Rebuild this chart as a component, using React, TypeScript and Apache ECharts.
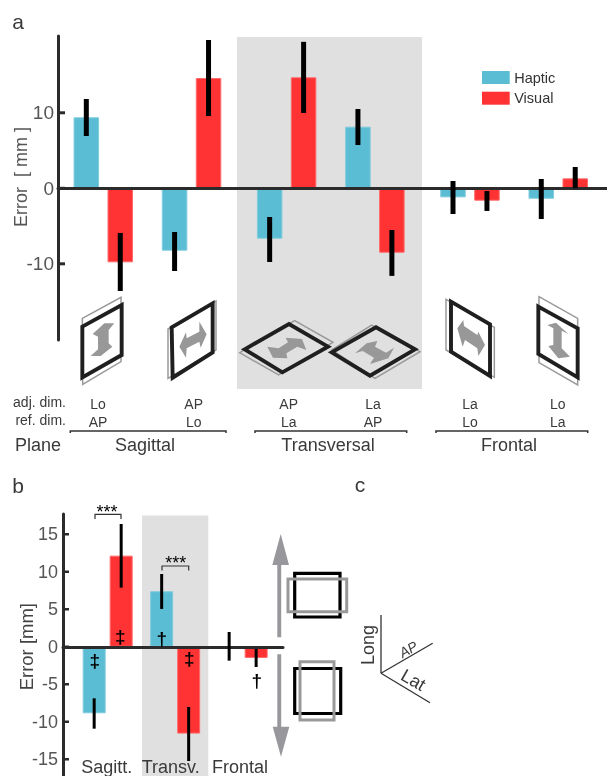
import React, { useEffect, useRef } from "react";
import * as echarts from "echarts";

// Panel a
const slotsHapticA = [0, 13, 27, 40, 54, 67];
const slotsVisualA = [5, 18, 32, 45, 59, 72];
const hapticA = [9.4, -8.26, -6.67, 8.16, -1.2, -1.38];
const visualA = [-9.8, 14.6, 14.7, -8.53, -1.64, 1.32];
const hapticLowA = [6.93, -10.95, -9.76, 5.73, -3.4, -4.07];
const hapticHighA = [11.83, -5.79, -3.8, 10.5, 0.97, 1.23];
const visualLowA = [-13.6, 9.57, 9.97, -11.6, -3.0, 0];
const visualHighA = [-5.92, 19.64, 19.4, -5.52, -0.36, 2.82];
const ticksA = [-10, 0, 10];
const adjDim = ["Lo", "AP", "AP", "La", "La", "Lo"];
const refDim = ["AP", "Lo", "La", "AP", "Lo", "La"];

// Panel b
const slotsHapticB = [0, 5, 10];
const slotsVisualB = [2, 7, 12];
const hapticB = [-8.87, 7.4, 0];
const visualB = [12.15, -11.58, -1.49];
const hapticLowB = [-10.92, 5.04, -1.85];
const hapticHighB = [-6.87, 9.7, 1.97];
const visualLowB = [7.88, -15.23, -2.69];
const visualHighB = [16.37, -8.03, -0.3];
const ticksB = [-15, -10, -5, 0, 5, 10, 15];

const TEAL = "#5bbdd4";
const RED = "#ff3333";
const INK = "#2b2b2b";
const ARROW = "#98989c";
const FONT = "Liberation Sans";

type P = number[][];
const poly = (ox: number, oy: number, pts: P) => pts.map(([x, y]) => [ox + x / 3, oy + y / 3]);

const txt = (text: string, x: number, y: number, size: number, extra: any = {}) => ({
  type: "text",
  x,
  y,
  z: 20,
  rotation: extra.rotation ?? 0,
  style: {
    text,
    fontSize: size,
    fontFamily: FONT,
    fontStyle: extra.fontStyle ?? "normal",
    fontWeight: extra.fontWeight ?? "normal",
    fill: extra.fill ?? "#3a3a3a",
    align: extra.align ?? "center",
    verticalAlign: "middle",
  },
});

const shape = (pts: P, stroke: string | null, lineWidth: number, fill: string | null = null, close = true) => ({
  type: close ? "polygon" : "polyline",
  z: 10,
  shape: { points: pts },
  style: { fill: fill ?? (close ? "none" : undefined), stroke: stroke ?? "none", lineWidth },
});

const icon = (ox: number, oy: number, grey: P, black: P, arrow: P) => [
  shape(poly(ox, oy, grey), "#9a9a9a", 1.5),
  shape(poly(ox, oy, arrow), null, 0, "#989898"),
  shape(poly(ox, oy, black), "#1f1f1f", 3.9),
];

const errorSeries = (name: string, xs: number[], lo: number[], hi: number[], axis: number, width: number) => ({
  type: "custom",
  name,
  xAxisIndex: axis,
  yAxisIndex: axis,
  z: 6,
  silent: true,
  clip: false,
  encode: { x: 0, y: [1, 2] },
  data: xs.map((x, i) => [x, lo[i], hi[i]]),
  renderItem: (_p: any, api: any) => {
    const a = api.coord([api.value(0), api.value(1)]);
    const b = api.coord([api.value(0), api.value(2)]);
    return {
      type: "rect",
      shape: { x: a[0] - width / 2, y: b[1], width, height: a[1] - b[1] },
      style: { fill: "#000" },
    };
  },
});

const barSeries = (name: string, xs: number[], ys: number[], axis: number, width: number, color: string, edge: string) => ({
  type: "bar",
  name,
  xAxisIndex: axis,
  yAxisIndex: axis,
  barWidth: width,
  barGap: "-100%",
  z: 2,
  data: xs.map((x, i) => [x, ys[i]]),
  itemStyle: { color, borderColor: edge, borderWidth: 1 },
});

const yAxis = (gridIndex: number, min: number, max: number, ticks: number[], margin: number, size: number) => ({
  type: "value",
  gridIndex,
  min,
  max,
  splitLine: { show: false },
  axisLine: { show: true, onZero: false, lineStyle: { color: INK, width: 3 } },
  axisTick: { show: false },
  axisLabel: { customValues: ticks, margin, color: "#555", fontSize: size, fontFamily: FONT },
});

const xAxis = (gridIndex: number, min: number, max: number) => ({
  type: "value",
  gridIndex,
  min,
  max,
  z: 3,
  splitLine: { show: false },
  axisTick: { show: false },
  axisLabel: { show: false },
  axisLine: { show: true, onZero: true, lineStyle: { color: INK, width: 3 } },
});

const dimX = [98, 193.7, 288.7, 373, 470, 557.7];
const X_MIN_A = -4.17;
const X_MIN_B = -2.31;

const graphics: any[] = [
  // grey bands
  { type: "rect", z: 0, shape: { x: 237, y: 37, width: 185, height: 352 }, style: { fill: "#e0e0e0" } },
  { type: "rect", z: 0, shape: { x: 142, y: 515.5, width: 66.3, height: 261 }, style: { fill: "#e0e0e0" } },

  // panel letters
  txt("a", 18, 21, 21),
  txt("b", 18, 485, 21),
  txt("c", 360, 484, 21),

  // panel a axis title
  txt("Error  [ mm ]", 21, 177, 18, { rotation: Math.PI / 2, fill: "#555" }),

  // icons of panel a
  ...icon(70, 290,
    [[37, 85], [153, 22], [153, 215], [38, 283]],
    [[37, 110], [155, 45], [155, 195], [37, 262]],
    [[68, 132], [103, 100], [133, 100], [116, 120], [116, 160], [127, 170], [92, 198], [62, 198], [84, 178], [84, 140]]),
  ...icon(160, 295,
    [[24, 102], [168, 18], [168, 165], [24, 250]],
    [[35, 97], [158, 25], [158, 172], [38, 248]],
    [[58, 155], [78, 112], [80, 130], [118, 110], [118, 80], [140, 118], [122, 158], [118, 140], [80, 160], [78, 188]]),
  ...icon(238, 315,
    [[5, 113], [122, 180], [285, 82], [170, 17]],
    [[20, 103], [153, 27], [270, 95], [133, 172]],
    [[88, 95], [122, 100], [150, 82], [143, 68], [192, 72], [205, 105], [178, 95], [145, 115], [148, 130], [105, 128]]),
  ...icon(325, 315,
    [[20, 105], [140, 30], [285, 110], [150, 190]],
    [[20, 112], [153, 37], [270, 103], [135, 182]],
    [[90, 115], [125, 85], [157, 78], [150, 95], [183, 113], [207, 98], [190, 130], [135, 147], [147, 128], [113, 108]]),
  ...icon(440, 290,
    [[18, 28], [163, 112], [163, 262], [18, 180]],
    [[33, 35], [150, 103], [150, 258], [33, 185]],
    [[52, 115], [70, 90], [72, 108], [112, 135], [115, 125], [135, 165], [115, 198], [112, 175], [75, 150], [68, 170]]),
  ...icon(530, 290,
    [[27, 20], [143, 85], [143, 285], [27, 218]],
    [[25, 50], [143, 115], [143, 262], [25, 192]],
    [[52, 105], [78, 98], [115, 132], [95, 122], [95, 175], [120, 200], [85, 205], [55, 168], [70, 165], [70, 115]]),

  // row labels
  txt("adj. dim.", 66, 402, 14, { align: "right" }),
  txt("ref. dim.", 66, 420, 14, { align: "right" }),
  ...adjDim.map((t, i) => txt(t, dimX[i], 404, 14)),
  ...refDim.map((t, i) => txt(t, dimX[i], 421.5, 14)),
  txt("Plane", 38, 445, 18),
  txt("Sagittal", 145, 445, 18),
  txt("Transversal", 328, 445, 18),
  txt("Frontal", 509, 445, 18),
  shape([[70.3, 433], [70.3, 431], [226, 431], [226, 433]], "#333", 1.5, null, false),
  shape([[255, 433], [255, 431], [406.7, 431], [406.7, 433]], "#333", 1.5, null, false),
  shape([[436, 433], [436, 431], [587.7, 431], [587.7, 433]], "#333", 1.5, null, false),

  // panel b texts
  txt("Error [mm]", 26, 646.7, 18.5, { rotation: Math.PI / 2, fill: "#444" }),
  txt("Sagitt.", 106.7, 766.5, 18),
  txt("Transv.", 170.7, 766.5, 18),
  txt("Frontal", 240, 766.5, 18),
  shape([[95, 519], [95, 514.3], [121, 514.3], [121, 519]], "#333", 1.2, null, false),
  shape([[162, 570.5], [162, 566], [188.7, 566], [188.7, 570.5]], "#333", 1.2, null, false),
  txt("***", 107, 512, 18, { fill: "#000" }),
  txt("***", 175.7, 562.5, 18, { fill: "#000" }),
  txt("‡", 94.7, 660, 19, { fill: "#000", fontWeight: "bold" }),
  txt("‡", 120.3, 636, 19, { fill: "#000", fontWeight: "bold" }),
  txt("†", 161.7, 638, 19, { fill: "#000", fontWeight: "bold" }),
  txt("‡", 189.3, 658, 19, { fill: "#000", fontWeight: "bold" }),
  txt("†", 256.7, 680, 19, { fill: "#000", fontWeight: "bold" }),

  // direction arrows of panel b
  shape([[280.7, 534], [289, 565], [281.2, 565], [281.2, 637.3], [277.3, 637.3], [277.3, 565], [272.3, 565]], null, 0, ARROW),
  shape([[281, 756.7], [289.3, 726.7], [281.2, 726.7], [281.2, 654.3], [277.3, 654.3], [277.3, 726.7], [272.7, 726.7]], null, 0, ARROW),

  // squares
  { type: "rect", z: 10, shape: { x: 294.7, y: 573.3, width: 45.3, height: 43.7 }, style: { fill: "none", stroke: "#000", lineWidth: 3.2 } },
  { type: "rect", z: 11, shape: { x: 288, y: 579, width: 58.7, height: 32.7 }, style: { fill: "none", stroke: "#999", lineWidth: 3 } },
  { type: "rect", z: 10, shape: { x: 294.7, y: 668.5, width: 46, height: 45 }, style: { fill: "none", stroke: "#000", lineWidth: 3.2 } },
  { type: "rect", z: 11, shape: { x: 300, y: 661.7, width: 34, height: 58.3 }, style: { fill: "none", stroke: "#999", lineWidth: 3 } },

  // panel c axes
  shape([[381, 615], [381, 673.3]], "#333", 1.3, null, false),
  shape([[381, 673.3], [432.7, 643.3]], "#333", 1.3, null, false),
  shape([[381, 673.3], [430, 702.7]], "#333", 1.3, null, false),
  txt("Long", 368.3, 645, 18, { rotation: Math.PI / 2 }),
  txt("AP", 408.3, 649.3, 14, { rotation: 0.52, fontStyle: "italic" }),
  txt("Lat", 413.3, 680, 18, { rotation: -0.52 }),
];

export default function App() {
  const ref = useRef<HTMLDivElement>(null);
  useEffect(() => {
    const chart = echarts.init(ref.current!, undefined, { renderer: "svg" });
    const option = {
      animation: false,
      textStyle: { fontFamily: FONT },
      legend: {
        data: ["Haptic", "Visual"],
        orient: "vertical",
        left: 482,
        top: 70,
        padding: 0,
        itemWidth: 27.7,
        itemHeight: 13,
        itemGap: 5.7,
        icon: "rect",
        selectedMode: false,
        itemStyle: { borderWidth: 0 },
        textStyle: { color: "#333", fontSize: 14.5, fontFamily: FONT, padding: [0, 0, 0, -0.5] },
      },
      grid: [
        { left: 58, top: 36, width: 549, height: 304 },
        { left: 63, top: 514, width: 220, height: 262 },
      ],
      xAxis: [xAxis(0, X_MIN_A, 76.68), xAxis(1, X_MIN_B, 13.99)],
      yAxis: [yAxis(0, -20.09, 20.17, ticksA, 4, 19), yAxis(1, -17.23, 17.7, ticksB, 5, 18)],
      graphic: { elements: graphics },
      series: [
        barSeries("Haptic", slotsHapticA, hapticA, 0, 25.5, TEAL, "#7fcbdd"),
        barSeries("Visual", slotsVisualA, visualA, 0, 25.5, RED, "#ff6a6a"),
        errorSeries("Haptic error", slotsHapticA, hapticLowA, hapticHighA, 0, 5),
        errorSeries("Visual error", slotsVisualA, visualLowA, visualHighA, 0, 5),
        barSeries("Haptic", slotsHapticB, hapticB, 1, 23, TEAL, "#7fcbdd"),
        barSeries("Visual", slotsVisualB, visualB, 1, 23, RED, "#ff6a6a"),
        errorSeries("Haptic error b", slotsHapticB, hapticLowB, hapticHighB, 1, 3),
        errorSeries("Visual error b", slotsVisualB, visualLowB, visualHighB, 1, 3),
      ],
    };
    chart.setOption(option);

    // Inward y ticks, placed through the chart's own y scales.
    const tickMarks = (axis: number, ticks: number[], x: number, length: number, thick: number) =>
      ticks.map((t) => ({
        type: "rect",
        z: 30,
        shape: {
          x,
          y: (chart.convertToPixel({ yAxisIndex: axis }, t) as number) - thick / 2,
          width: length,
          height: thick,
        },
        style: { fill: INK },
      }));
    chart.setOption({
      graphic: {
        elements: [
          ...graphics,
          ...tickMarks(0, ticksA, 58, 7, 3),
          ...tickMarks(1, ticksB, 63, 6, 2.5),
        ],
      },
    });
    return () => chart.dispose();
  }, []);
  return <div ref={ref} style={{ position: "fixed", left: 0, top: 0, width: 607, height: 776 }} />;
}
